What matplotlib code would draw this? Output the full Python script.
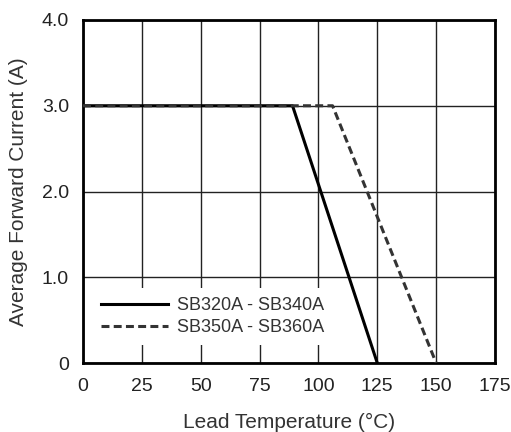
import matplotlib.pyplot as plt

plt.rcParams['font.family'] = ['Liberation Sans', 'DejaVu Sans']

# derating curves (lead temperature in degC, current in A)
t_low = [0, 89, 125]
i_low = [3.0, 3.0, 0.0]
t_high = [0, 106, 150]
i_high = [3.0, 3.0, 0.0]

x_ticks = [0, 25, 50, 75, 100, 125, 150, 175]
y_ticks = [0, 1, 2, 3, 4]
y_labels = ['0', '1.0', '2.0', '3.0', '4.0']

fig = plt.figure(figsize=(5.11, 4.32), dpi=100)
ax = fig.add_axes([83/511, 1 - 363/432, 412/511, 343/432])

ax.plot(t_low, i_low, color='black', lw=2.2, label='SB320A - SB340A', zorder=3)
ax.plot(t_high, i_high, color='#333333', lw=2.2, ls=(0, (2.6, 1.4)),
        label='SB350A - SB360A', zorder=3)

ax.set_xlim(0, 175)
ax.set_ylim(0, 4)
ax.set_xticks(x_ticks)
ax.set_yticks(y_ticks)
ax.set_yticklabels(y_labels)
ax.tick_params(length=0, labelsize=14, labelcolor='#222222')
ax.tick_params(axis='x', pad=11)
ax.tick_params(axis='y', pad=10)
ax.grid(True, color='#222222', lw=1.0)
for s in ax.spines.values():
    s.set_linewidth(2)
    s.set_color('black')

ax.set_xlabel('Lead Temperature (°C)', fontsize=15, color='#333333', labelpad=13)
ax.set_ylabel('Average Forward Current (A)', fontsize=15, color='#333333', labelpad=10)

leg = ax.legend(loc='lower left', bbox_to_anchor=(0.022, 0.052), borderaxespad=0,
                frameon=True, fontsize=13, handlelength=3.7, handletextpad=0.5,
                borderpad=0.5, labelspacing=0.28, fancybox=False)
leg.get_frame().set_edgecolor('white')
leg.get_frame().set_facecolor('white')
leg.get_frame().set_alpha(1)
leg.get_frame().set_linewidth(0)
for t in leg.get_texts():
    t.set_color('#333333')

fig.savefig('out.png', dpi=100)
